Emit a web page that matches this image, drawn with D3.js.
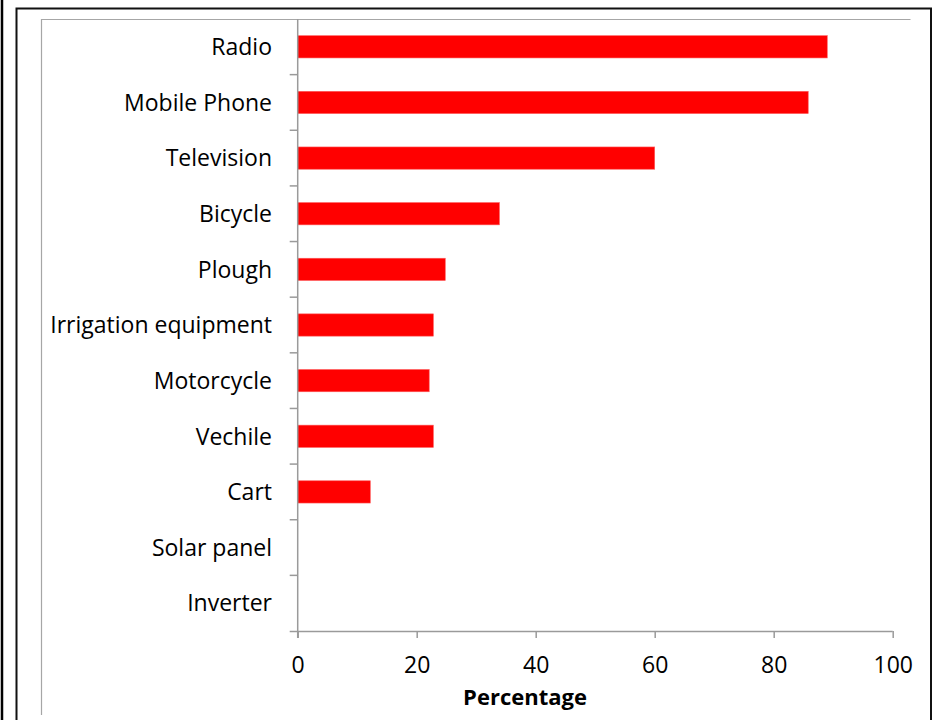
<!DOCTYPE html>
<html>
<head>
<meta charset="utf-8">
<script src="https://cdn.jsdelivr.net/npm/d3@7"></script>
<style>
  html, body { margin: 0; padding: 0; background: #fff; }
  svg { display: block; }
  text { font-family: "Open Sans", "Noto Sans", sans-serif; fill: #000; }
</style>
</head>
<body>
<script>
// Household assets owned (percentage of respondents)
const categories = ["Radio", "Mobile Phone", "Television", "Bicycle", "Plough",
  "Irrigation equipment", "Motorcycle", "Vechile", "Cart", "Solar panel", "Inverter"];
const values = [89.0, 85.8, 60.0, 33.9, 24.8, 22.8, 22.1, 22.8, 12.2, 0, 0];
const xTicks = [0, 20, 40, 60, 80, 100];
const xTitle = "Percentage";

const W = 939, H = 720;
const svg = d3.select("body").append("svg").attr("width", W).attr("height", H);

// Outer frame lines
svg.append("line").attr("x1", 2).attr("x2", 2).attr("y1", 0).attr("y2", H)
  .attr("stroke", "#000").attr("stroke-width", 2.5);
svg.append("path").attr("d", `M16.5,${H} V8.5 H931 V${H}`)
  .attr("fill", "none").attr("stroke", "#111").attr("stroke-width", 2);

// Chart area border (top and left edges)
svg.append("path").attr("d", "M41.5,715 V19.5 H910.5")
  .attr("fill", "none").attr("stroke", "#a6a6a6").attr("stroke-width", 1.2);

const x = d3.scaleLinear().domain([0, 100]).range([297.7, 892.7]);
const y = d3.scaleBand().domain(categories).range([19, 631])
  .paddingInner(0.6).paddingOuter(0.3);

const axisColor = "#9a9a9a";

// Bars
svg.append("g").selectAll("rect").data(categories).join("rect")
  .attr("x", x(0))
  .attr("y", d => y(d))
  .attr("width", (d, i) => x(values[i]) - x(0))
  .attr("height", y.bandwidth())
  .attr("fill", "#ff0000")
  .attr("stroke", "#ff5a5a").attr("stroke-width", 0.6);

// X axis
const xAxis = svg.append("g").attr("transform", "translate(0,631)")
  .call(d3.axisBottom(x).tickValues(xTicks).tickSize(7).tickSizeOuter(0).tickPadding(19));
xAxis.select(".domain").attr("stroke", axisColor).attr("stroke-width", 1.5)
  .attr("d", `M${x(0) - 8},0.5H${x(100)}`);
xAxis.selectAll(".tick line").attr("stroke", axisColor).attr("stroke-width", 1.5);
xAxis.selectAll(".tick text").attr("font-size", 23).style("font-family", "'Open Sans', sans-serif").attr("fill", "#000");

// Y axis: tick marks sit on category boundaries
const step = y.step();
const boundaries = d3.range(categories.length + 1).map(i => 19 + i * step);
const yAxisG = svg.append("g");
yAxisG.append("line").attr("x1", x(0)).attr("x2", x(0)).attr("y1", 19).attr("y2", 638)
  .attr("stroke", axisColor).attr("stroke-width", 1.5);
yAxisG.selectAll("line.tk").data(boundaries.slice(1, -1)).join("line").attr("class", "tk")
  .attr("x1", x(0) - 8).attr("x2", x(0)).attr("y1", d => d).attr("y2", d => d)
  .attr("stroke", axisColor).attr("stroke-width", 1.5);

// Category labels
svg.append("g").selectAll("text").data(categories).join("text")
  .attr("x", 272)
  .attr("y", d => y(d) + y.bandwidth() / 2 + 8.3)
  .attr("text-anchor", "end")
  .attr("font-size", 23)
  .text(d => d);

// Axis title
svg.append("text").attr("x", 525).attr("y", 705)
  .attr("text-anchor", "middle").attr("font-size", 22).attr("font-weight", "bold")
  .text(xTitle);
</script>
</body>
</html>
